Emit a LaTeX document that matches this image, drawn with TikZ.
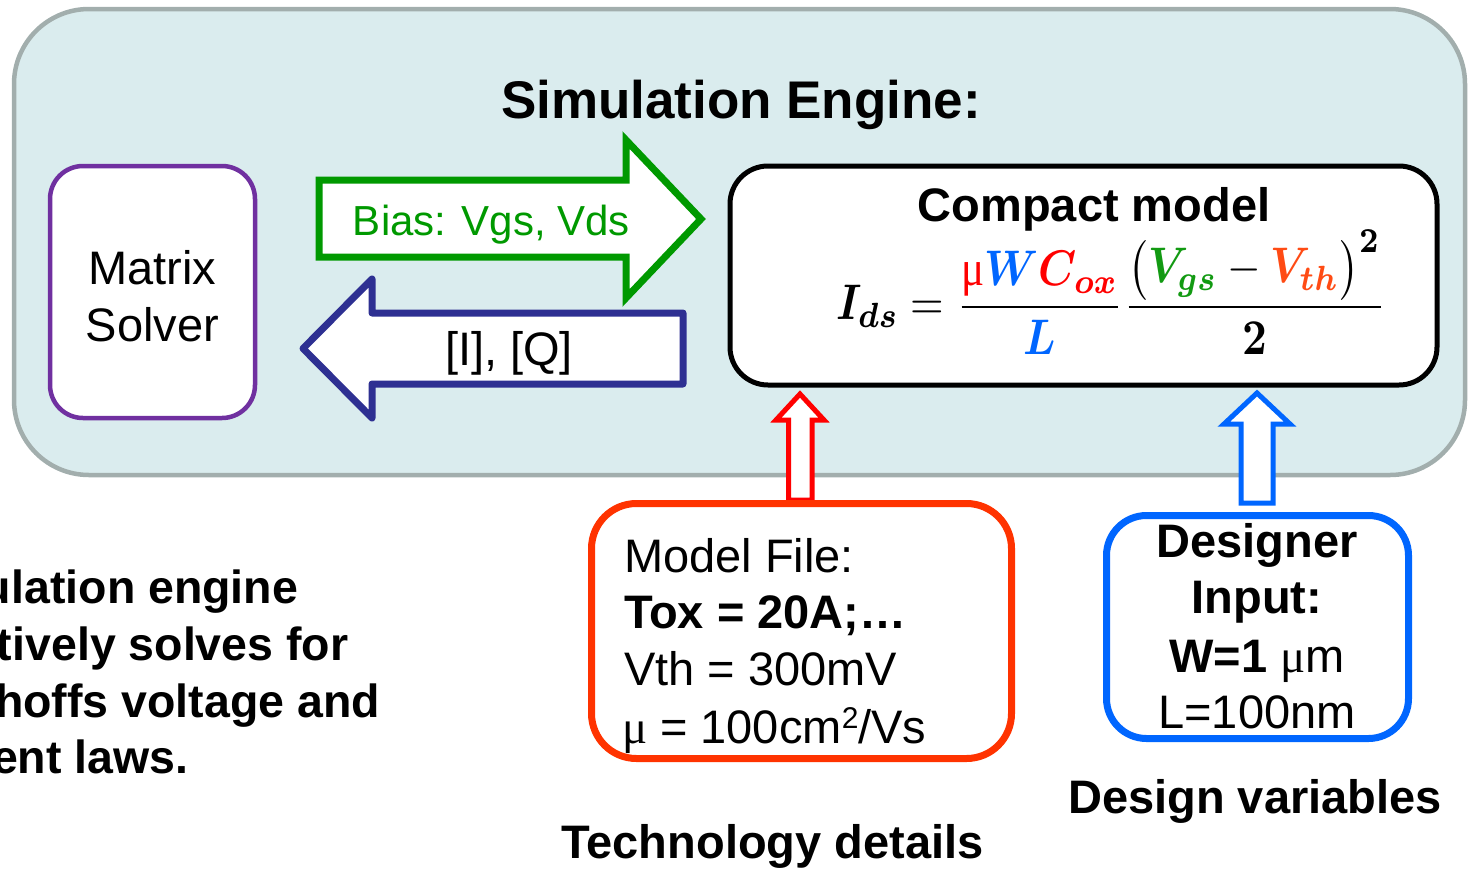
\documentclass[tikz,border=0pt]{standalone}
\usepackage[no-math]{fontspec}
\setmainfont{Liberation Sans}
\newfontfamily\symserif{Liberation Serif}
\usepackage{amsmath}
\usepackage{bm}
\usepackage{graphicx}

\definecolor{enginefill}{HTML}{DAECEE}
\definecolor{engineedge}{HTML}{A2AEAD}
\definecolor{solverpurple}{HTML}{7030A0}
\definecolor{biasgreen}{HTML}{009900}
\definecolor{resultnavy}{HTML}{2E3092}
\definecolor{modelred}{HTML}{FF3300}
\definecolor{pureRed}{HTML}{FF0000}
\definecolor{inputblue}{HTML}{0066FF}
\definecolor{vthorange}{HTML}{FF4B14}
\definecolor{vgsgreen}{HTML}{129A12}

\newcommand\sizeTitle{\fontsize{53pt}{64pt}\selectfont}
\newcommand\sizeBody{\fontsize{47pt}{57pt}\selectfont}
\newcommand\sizeBias{\fontsize{42pt}{50pt}\selectfont}
\newcommand\sizeSide{\fontsize{46.5pt}{57pt}\selectfont}
\newcommand\mufont{{\symserif μ}}

\tikzset{
  panel/.style={draw, fill=white, rounded corners=#1, inner sep=0pt},
  txt/.style={inner sep=0pt, outer sep=0pt, anchor=base},
  txtl/.style={inner sep=0pt, outer sep=0pt, anchor=base west},
  blockarrow/.style={fill=white, line width=#1},
}

\begin{document}
\begin{tikzpicture}[x=1pt, y=-1pt]
\useasboundingbox (0,0) rectangle (1468,868);

% simulation engine background
\node[draw=engineedge, fill=enginefill, line width=4.5pt, rounded corners=75pt,
      minimum width=1451pt, minimum height=466pt, inner sep=0pt] (engine) at (739.5,242) {};
\node[txt, font=\sizeTitle\bfseries] (enginetitle) at (741,118) {Simulation Engine:};

% matrix solver
\node[panel=33pt, draw=solverpurple, line width=4.5pt,
      minimum width=205pt, minimum height=252pt] (solver) at (152.5,292) {};
\node[txt, font=\sizeBody] (solverA) at (152.5,284) {Matrix};
\node[txt, font=\sizeBody] (solverB) at (152.5,341) {Solver};

% compact model
\node[panel=38pt, draw=black, line width=5pt,
      minimum width=707pt, minimum height=219pt] (compact) at (1083.5,275.5) {};
\node[txt, font=\sizeBody\bfseries] (compacttitle) at (1094,221) {Compact model};
\node[inner sep=0pt] (equation) at (1111,292) {\resizebox*{550pt}{124pt}{$\displaystyle
  \bm{I_{ds}} = \frac{{\color{pureRed}\text{\mufont}}{\color{inputblue}\bm{W}}{\color{pureRed}\bm{C_{ox}}}}{{\color{inputblue}\bm{L}}}
  \frac{\bigl({\color{vgsgreen}\bm{V_{gs}}} - {\color{vthorange}\bm{V_{th}}}\bigr)^{\bm{2}}}{\bm{2}}$}};

% bias arrow towards the compact model
\draw[blockarrow=7pt, draw=biasgreen]
  (319,180) -- (626,180) -- (626,140) -- (701,219) -- (626,298) -- (626,257) -- (319,257) -- cycle;
\node[txt, font=\sizeBias, text=biasgreen] (bias) at (491.5,235) {Bias: Vgs, Vds};

% results arrow back to the solver
\draw[blockarrow=7pt, draw=resultnavy, line join=round]
  (683,313) -- (372,313) -- (372,279) -- (303,348.5) -- (372,418) -- (372,384) -- (683,384) -- cycle;
\node[txt, font=\sizeBody] (results) at (509,365) {[I], [Q]};

% model file input
\draw[blockarrow=5pt, draw=pureRed]
  (788.5,500) -- (788.5,420) -- (776,420) -- (800,394) -- (824,420) -- (812,420) -- (812,500) -- cycle;
\node[panel=45pt, draw=modelred, line width=7pt,
      minimum width=420pt, minimum height=255pt] (modelfile) at (801.5,631) {};
\node[txtl, font=\sizeBody] (mfA) at (624,572) {Model File:};
\node[txtl, font=\sizeBody\bfseries] (mfB) at (624,628) {Tox = 20A;…};
\node[txtl, font=\sizeBody] (mfC) at (624,685) {Vth = 300mV};
\node[txtl, font=\sizeBody] (mfD) at (622,743) {\mufont{} = 100cm\raisebox{15pt}{\fontsize{30pt}{30pt}\selectfont 2}/Vs};
\node[txt, font=\sizeBody\bfseries] (techlabel) at (772.5,858) {Technology details};

% designer input
\draw[blockarrow=5pt, draw=inputblue]
  (1241,503) -- (1241,424) -- (1224,424) -- (1257,393) -- (1290,424) -- (1273,424) -- (1273,503) -- cycle;
\node[panel=40pt, draw=inputblue, line width=7pt,
      minimum width=302pt, minimum height=223pt] (designer) at (1257.5,627) {};
\node[txt, font=\sizeBody\bfseries] (dA) at (1257,557) {Designer};
\node[txt, font=\sizeBody\bfseries] (dB) at (1257,613) {Input:};
\node[txt, font=\sizeBody] (dC) at (1257,672) {\textbf{W=1} \mufont m};
\node[txt, font=\sizeBody] (dD) at (1257,728) {L=100nm};
\node[txt, font=\sizeBody\bfseries] (designlabel) at (1255,813) {Design variables};

% explanatory note along the left edge
\node[txtl, font=\sizeSide\bfseries] (noteA) at (-17,603) {ulation engine};
\node[txtl, font=\sizeSide\bfseries] (noteB) at (-3,660) {tively solves for};
\node[txtl, font=\sizeSide\bfseries] (noteC) at (-5,717) {hoffs voltage and};
\node[txtl, font=\sizeSide\bfseries] (noteD) at (-8,773) {ent laws.};
\end{tikzpicture}
\end{document}
